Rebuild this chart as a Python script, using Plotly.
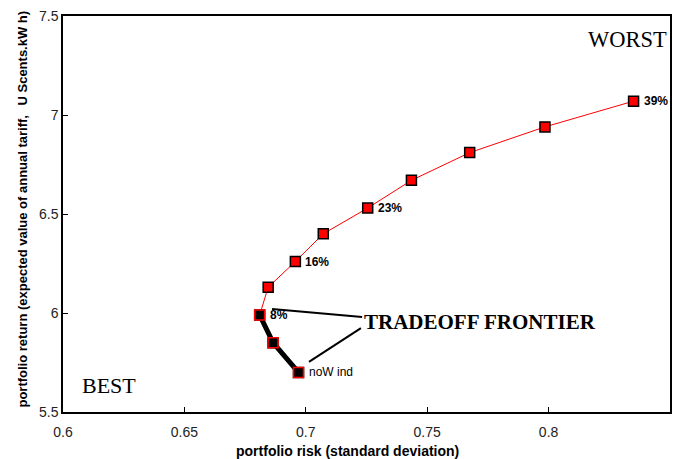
import plotly.graph_objects as go

risk = [0.697, 0.6865, 0.681, 0.6845, 0.6957, 0.7072, 0.7255, 0.7435, 0.7675, 0.7985, 0.835]
ret = [5.70, 5.85, 5.99, 6.13, 6.26, 6.40, 6.53, 6.67, 6.81, 6.94, 7.07]
labels = ["noW ind", "", "8%", "", "16%", "", "23%", "", "", "", "39%"]
x_ticks = [0.6, 0.65, 0.7, 0.75, 0.8, 0.85]
y_ticks = [5.5, 6, 6.5, 7, 7.5]
y_title_parts = ["portfolio return (expected value of annual tariff,", "U Scents.kW h)"]
x_title = "portfolio risk (standard deviation)"

fig = go.Figure()
fig.add_trace(go.Scatter(
    x=risk, y=ret, mode="lines+markers",
    line=dict(color="#ff0000", width=1),
    marker=dict(symbol="square", size=10, color="#ff0000", line=dict(color="#000000", width=1.5)),
    hoverinfo="skip", showlegend=False))
fig.add_trace(go.Scatter(
    x=risk[:3], y=ret[:3], mode="lines+markers",
    line=dict(color="#000000", width=5),
    marker=dict(symbol="square", size=10, color="#000000", line=dict(color="#ff0000", width=1.5)),
    hoverinfo="skip", showlegend=False))

for x, y, t in zip(risk, ret, labels):
    if t:
        fig.add_annotation(x=x, y=y, text=("<b>%s</b>" % t) if t != "noW ind" else t,
                           showarrow=False, xanchor="left", xshift=8,
                           font=dict(family="Arial, Liberation Sans", size=12, color="#000000"))

fig.add_shape(type="line", x0=0.6861, y0=6.02, x1=0.7232, y1=5.98, line=dict(color="black", width=2))
fig.add_shape(type="line", x0=0.7013, y0=5.753, x1=0.7227, y1=5.924, line=dict(color="black", width=2))

fig.add_annotation(x=0.7232, y=5.955, text="<b>TRADEOFF FRONTIER</b>", showarrow=False,
                   xanchor="left", font=dict(family="Liberation Serif, Times New Roman", size=21, color="black"))
fig.add_annotation(x=0.6068, y=5.635, text="BEST", showarrow=False, xanchor="left",
                   font=dict(family="Liberation Serif, Times New Roman", size=22, color="black"))
fig.add_annotation(x=0.8495, y=7.38, text="WORST", showarrow=False, xanchor="right",
                   font=dict(family="Liberation Serif, Times New Roman", size=22.5, color="black"))

# y axis title, drawn as one rotated line in two pieces
fig.add_annotation(xref="paper", yref="paper", x=-0.0675, y=0.005, textangle=-90,
                   text="<b>%s</b>" % y_title_parts[0],
                   showarrow=False, xanchor="center", yanchor="bottom",
                   font=dict(family="Arial, Liberation Sans", size=13, color="black"))
fig.add_annotation(xref="paper", yref="paper", x=-0.0675, y=1.0177, textangle=-90,
                   text="<b>%s</b>" % y_title_parts[1],
                   showarrow=False, xanchor="center", yanchor="top",
                   font=dict(family="Arial, Liberation Sans", size=13, color="black"))

# x axis title
fig.add_annotation(xref="paper", yref="paper", x=0.468, y=-0.0985,
                   text="<b>%s</b>" % x_title, showarrow=False,
                   xanchor="center", yanchor="middle",
                   font=dict(family="Arial, Liberation Sans", size=14, color="black"))

axis_common = dict(showgrid=False, zeroline=False, showline=True, linecolor="#000000", linewidth=1.5,
                   mirror=True, ticks="inside", ticklen=5, tickcolor="#000000", automargin=False,
                   tickfont=dict(family="Arial, Liberation Sans", size=14, color="#222222"))
fig.update_xaxes(range=[0.6, 0.85], tickvals=x_ticks, ticktext=[str(v) for v in x_ticks],
                 ticklabelstandoff=6, **axis_common)
fig.update_yaxes(range=[5.5, 7.5], tickvals=y_ticks, ticktext=[str(v) for v in y_ticks],
                 **axis_common)
fig.update_layout(width=679, height=459, margin=dict(l=63, r=9, t=16, b=47),
                  paper_bgcolor="white", plot_bgcolor="white")
fig.write_html("out.html")
